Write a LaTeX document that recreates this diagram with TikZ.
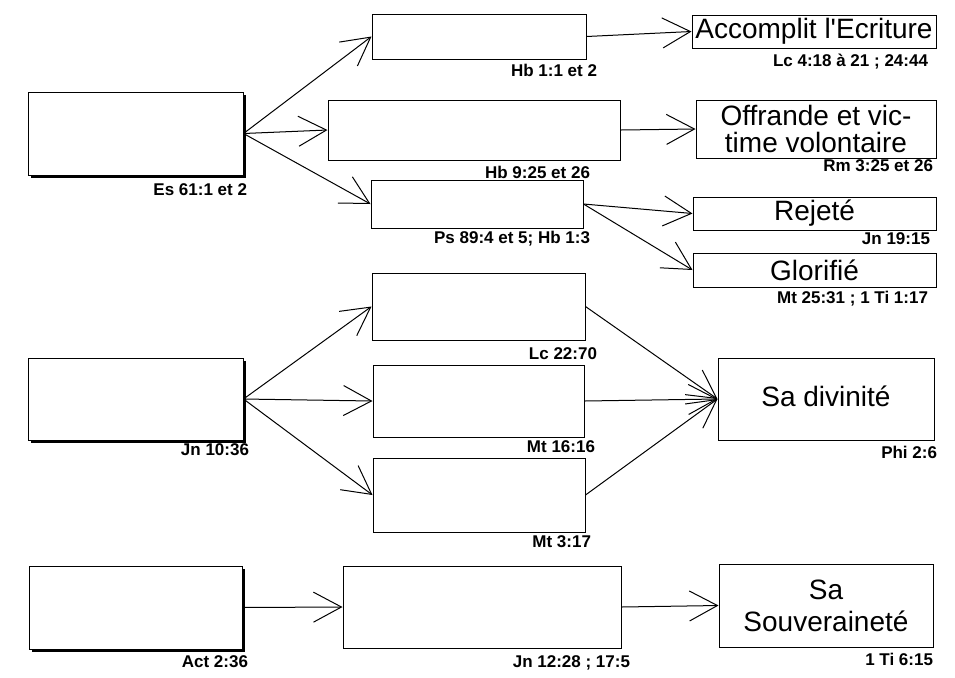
\documentclass[tikz,border=0pt]{standalone}
\usepackage{fontspec}
\setmainfont{Liberation Sans}
\usetikzlibrary{arrows.meta, shadows}

\begin{document}
\begin{tikzpicture}[->, >={Straight Barb[length=14pt,width=15pt]}, x=0.5pt, y=-0.5pt, line width=0.5pt,
  cadre/.style 2 args={draw, fill=white, inner sep=1pt, minimum width=#1pt, minimum height=#2pt},
  ombre/.style={drop shadow={shadow xshift=1.5pt, shadow yshift=-1.5pt, fill=black, opacity=1}},
  titre/.style={font=\fontsize{14}{13.5}\selectfont, align=center},
  verset/.style={font=\bfseries\fontsize{8.5}{8.5}\selectfont, inner sep=0pt, anchor=north east}]
\useasboundingbox (0,0) rectangle (955,677);

% premier groupe
\node[cadre={107.5}{41.5}, ombre] (es) at (135.5,133.5) {};
\node[cadre={107}{22.5}] (hbA) at (479,36.5) {};
\node[cadre={146}{30}] (hbB) at (474,130) {};
\node[cadre={106}{24}] (ps) at (477,204) {};
\node[cadre={122}{16.5}, titre] (acc) at (814,31.5) {Accomplit l\textquotesingle Ecriture};
\node[cadre={120}{29}, titre] (off) at (816,129) {Offrande et vic-\\time volontaire};
\node[cadre={121.5}{16.5}, titre] (rej) at (814.5,213.5) {Rejeté};
\node[cadre={121.5}{17}, titre] (glo) at (814.5,270) {Glorifié};

% deuxieme groupe
\node[cadre={107.5}{41}, ombre] (jn) at (135.5,399) {};
\node[cadre={106.5}{33.5}] (lc) at (478.5,306.5) {};
\node[cadre={105.5}{36}] (mtA) at (478.5,401) {};
\node[cadre={106}{37}] (mtB) at (479,495) {};
\node[cadre={108}{41}, titre] (div) at (826,399) {\raisebox{3pt}{Sa divinité}};

% troisieme groupe
\node[cadre={106.5}{41.5}, ombre] (act) at (135.5,607.5) {};
\node[cadre={139}{41}] (jnB) at (482,607) {};
\node[cadre={107}{41.5}, titre] (sou) at (826,605.5) {Sa\\[2.5pt]Souveraineté};

% references
\node[verset] at ([shift={(4,8)}]es.south east) {Es 61:1 et 2};
\node[verset] at ([shift={(11,4)}]hbA.south east) {Hb 1:1 et 2};
\node[verset] at ([shift={(-30,5)}]hbB.south east) {Hb 9:25 et 26};
\node[verset] at ([shift={(7,2)}]ps.south east) {Ps 89:4 et 5; Hb 1:3};
\node[verset] at ([shift={(-8,5)}]acc.south east) {Lc 4:18 à 21 ; 24:44};
\node[verset] at ([shift={(-3,1)}]off.south east) {Rm 3:25 et 26};
\node[verset] at ([shift={(-6,2)}]rej.south east) {Jn 19:15};
\node[verset] at ([shift={(-8,3)}]glo.south east) {Mt 25:31 ; 1 Ti 1:17};
\node[verset] at ([shift={(6,3)}]jn.south east) {Jn 10:36};
\node[verset] at ([shift={(12,7)}]lc.south east) {Lc 22:70};
\node[verset] at ([shift={(11,3)}]mtA.south east) {Mt 16:16};
\node[verset] at ([shift={(6,3)}]mtB.south east) {Mt 3:17};
\node[verset] at ([shift={(3,5)}]div.south east) {Phi 2:6};
\node[verset] at ([shift={(6,6)}]act.south east) {Act 2:36};
\node[verset] at ([shift={(9,7)}]jnB.south east) {Jn 12:28 ; 17:5};
\node[verset] at ([shift={(0,5)}]sou.south east) {1 Ti 6:15};

\path (es.east) edge (hbA.west);
\path (es.east) edge (hbB.west);
\path (es.east) edge (ps.west);
\path (hbA.east) edge (acc.west);
\path (hbB.east) edge (off.west);
\path (ps.east) edge (rej.west);
\path (ps.east) edge (glo.west);

\path (jn.east) edge (lc.west);
\path (jn.east) edge (mtA.west);
\path (jn.east) edge (mtB.west);
\path (lc.east) edge (div.west);
\path (mtA.east) edge (div.west);
\path (mtB.east) edge (div.west);

\path (act.east) edge (jnB.west);
\path (jnB.east) edge (sou.west);
\end{tikzpicture}
\end{document}
